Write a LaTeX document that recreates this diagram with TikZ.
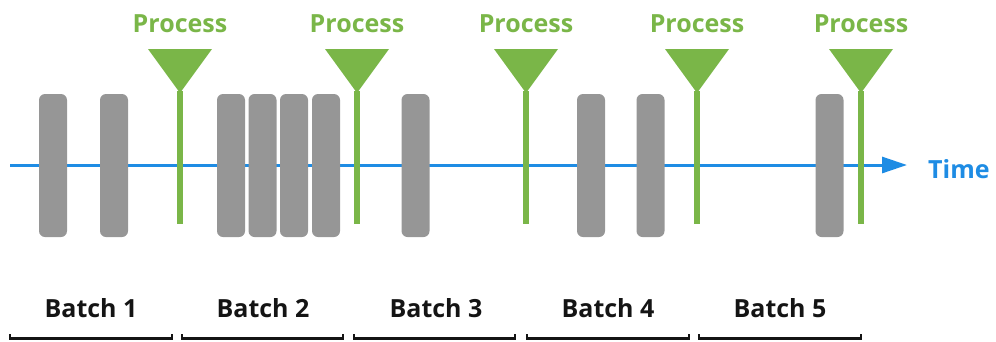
\documentclass[tikz,border=0pt]{standalone}
\usepackage{fontspec}
\setmainfont{Open Sans}
\usetikzlibrary{arrows.meta}

\definecolor{procgreen}{RGB}{122,182,72}
\definecolor{bargray}{RGB}{150,150,150}
\definecolor{timeblue}{RGB}{30,140,228}
\definecolor{labelblack}{RGB}{20,20,20}

\begin{document}
\begin{tikzpicture}[x=1pt, y=-1pt,
  bar/.style={fill=bargray, draw=none, rounded corners=6pt, inner sep=0pt,
              minimum width=28pt, minimum height=143pt},
  proclabel/.style={text=procgreen, anchor=base, inner sep=0pt,
              font=\fontsize{25}{30}\selectfont\bfseries},
  funnel/.style={fill=procgreen},
  stem/.style={draw=procgreen, line width=6pt},
  timeline/.style={draw=timeblue, line width=3pt,
              -{Triangle[length=25pt, width=16pt]}},
  timelabel/.style={text=timeblue, anchor=base west, inner sep=0pt,
              font=\fontsize{25}{30}\selectfont\bfseries},
  batchlabel/.style={text=labelblack, anchor=base, inner sep=0pt,
              font=\fontsize{25}{30}\selectfont\bfseries},
  bracket/.style={draw=labelblack, line width=2.5pt}]

  \useasboundingbox (0,0) rectangle (996,341);

  % time axis
  \coordinate (tstart) at (10,165);
  \coordinate (tend) at (907,165);
  \draw[timeline] (tstart) -- (tend);
  \node[timelabel] (time) at (928,178) {Time};

  % incoming items
  \foreach \x [count=\i] in {53,114,231,262.5,294,326,415.5,591,650.5,829.5}
    \node[bar] (item\i) at (\x,165.5) {};

  % process markers
  \foreach \x [count=\i] in {180,357,526,697,861} {
    \coordinate (ftop\i) at (\x,49);
    \coordinate (ftip\i) at (\x,91);
    \coordinate (fend\i) at (\x,224);
    \fill[funnel] ([xshift=-32pt]ftop\i) -- ([xshift=32pt]ftop\i) -- (\x,93) -- cycle;
    \draw[stem] (ftip\i) -- (fend\i);
    \node[proclabel] (proc\i) at (\x,32) {Process};
  }

  % batch brackets and labels
  \foreach \a/\b/\c [count=\i] in {10/172/91, 182/343/263, 354/515/436, 527/689/608, 699/861/780} {
    \coordinate (bl\i) at (\a,338.5);
    \coordinate (br\i) at (\b,338.5);
    \draw[bracket] ([yshift=4.5pt]bl\i) -- (bl\i) -- (br\i) -- ([yshift=4.5pt]br\i);
    \node[batchlabel] (batch\i) at (\c,317) {Batch \i};
  }
\end{tikzpicture}
\end{document}
